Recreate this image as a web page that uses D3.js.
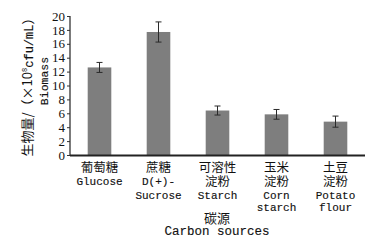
<!DOCTYPE html>
<html><head><meta charset="utf-8">
<script src="https://cdn.jsdelivr.net/npm/d3@7"></script>
<style>body{margin:0;background:#fff}svg{display:block}</style>
</head><body>
<svg id="c" width="373" height="244"></svg>
<script>
const categories = ["Glucose","Sucrose","Starch","Corn starch","Potato flour"];
const labelLines = [
  ["葡萄糖","Glucose"],
  ["蔗糖","D(+)-","Sucrose"],
  ["可溶性","淀粉","Starch"],
  ["玉米","淀粉","Corn","starch"],
  ["土豆","淀粉","Potato","flour"]
];
const values = [12.6, 17.7, 6.4, 5.85, 4.8];
const errors = [0.72, 1.45, 0.65, 0.7, 0.8];
const yTicks = [0,2,4,6,8,10,12,14,16,18,20];

const svg = d3.select("#c");
const x = d3.scaleBand().domain(categories).range([70,365]).paddingInner(0.6).paddingOuter(0.3);
const y = d3.scaleLinear().domain([0,20]).range([155,16]);

const cjk = "'Noto Sans CJK SC', sans-serif";
const mono = "'Liberation Mono', 'DejaVu Sans Mono', monospace";
const serif = "'Liberation Serif', serif";

// bars
svg.selectAll("rect.bar").data(values).join("rect")
  .attr("x",(d,i)=>x(categories[i])).attr("width",x.bandwidth())
  .attr("y",d=>y(d)).attr("height",d=>y(0)-y(d))
  .attr("fill","#7e7e7e");

// error bars
const eg = svg.append("g").attr("stroke","#2a2a2a").attr("stroke-width",1);
values.forEach((v,i)=>{
  const cx = x(categories[i])+x.bandwidth()/2;
  eg.append("line").attr("x1",cx).attr("x2",cx).attr("y1",y(v+errors[i])).attr("y2",y(v-errors[i]));
  eg.append("line").attr("x1",cx-3).attr("x2",cx+3).attr("y1",y(v+errors[i])).attr("y2",y(v+errors[i]));
  eg.append("line").attr("x1",cx-3).attr("x2",cx+3).attr("y1",y(v-errors[i])).attr("y2",y(v-errors[i]));
});

// y axis
const ya = svg.append("g").attr("transform","translate(70,0)")
  .call(d3.axisLeft(y).tickValues(yTicks).tickSize(3).tickPadding(2));
ya.select(".domain").attr("stroke","#222").attr("stroke-width",1.2).attr("d","M0,16V155");
ya.selectAll(".tick line").attr("stroke","#333");
ya.selectAll("text").attr("font-family",serif).attr("font-size",13).attr("fill","#111");

// x axis line
svg.append("line").attr("x1",70).attr("x2",365).attr("y1",155.5).attr("y2",155.5)
  .attr("stroke","#222").attr("stroke-width",2);

// category labels: one text element per category, lines as tspans
const lineY = [167,181,195,207];
labelLines.forEach((lines,i)=>{
  const cx = x(categories[i])+x.bandwidth()/2;
  const tx = svg.append("text").attr("text-anchor","middle").attr("fill","#111");
  lines.forEach((t,j)=>{
    const isC = /[\u4e00-\u9fff]/.test(t);
    const ts = tx.append("tspan").attr("x",cx).attr("y",lineY[j]+ (isC?4.5:4))
      .attr("font-family",isC?cjk:mono).attr("font-size",isC?12.5:11).text(t);
    if(!isC) ts.attr("stroke","#111").attr("stroke-width",0.15);
  });
});

// x title
svg.append("text").attr("text-anchor","middle").attr("fill","#111")
  .call(t=>{
    t.append("tspan").attr("x",217).attr("y",222.5).attr("font-family",cjk).attr("font-size",13).text("碳源");
    t.append("tspan").attr("x",217).attr("y",234.5).attr("font-family",mono).attr("font-size",12.5)
      .attr("stroke","#111").attr("stroke-width",0.15).text("Carbon sources");
  });

// y title
const t1 = svg.append("text").attr("transform","translate(27,84) rotate(-90)")
  .attr("text-anchor","middle").attr("dy","0.36em").attr("fill","#111").attr("font-size",13);
t1.append("tspan").attr("font-family",cjk).text("生物量/（×10");
t1.append("tspan").attr("font-family",mono).attr("font-size",7).attr("dy","-0.6em").text("8");
t1.append("tspan").attr("font-family",mono).attr("font-size",12).attr("dy","0.42em")
  .attr("stroke","#111").attr("stroke-width",0.15).text("cfu/mL");
t1.append("tspan").attr("font-family",cjk).text("）");
svg.append("text").attr("transform","translate(44,81) rotate(-90)")
  .attr("text-anchor","middle").attr("dy","0.36em").attr("fill","#111")
  .attr("font-family",mono).attr("font-size",11.5)
  .attr("stroke","#111").attr("stroke-width",0.15).text("Biomass");
</script>
</body></html>
